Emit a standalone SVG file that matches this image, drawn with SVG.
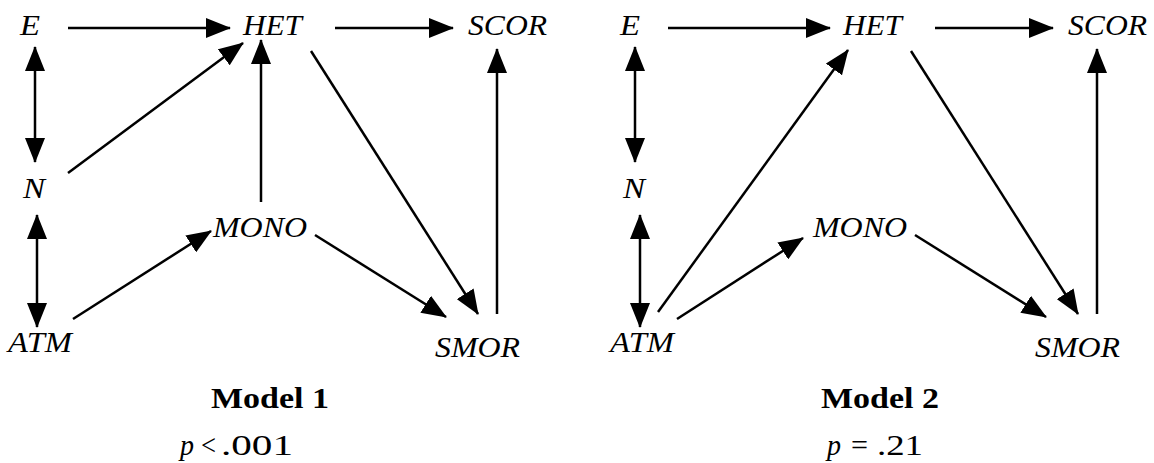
<svg xmlns="http://www.w3.org/2000/svg" width="1154" height="463" viewBox="0 0 1154 463">
<style>
text{font-family:"Liberation Serif","Times New Roman",Tinos,"Nimbus Roman","FreeSerif","DejaVu Serif",serif;fill:#000}
.n{font-style:italic;font-size:30px}
.t{font-weight:bold;font-size:30px}
.p{font-size:30px}
.c line{stroke:#000;stroke-width:2.5;fill:none;marker-end:url(#ah)}
.c line.d{marker-start:url(#ah)}
</style>
<defs>
<marker id="ah" viewBox="0 0 25 20" refX="24" refY="10" markerWidth="25" markerHeight="20" markerUnits="userSpaceOnUse" orient="auto-start-reverse"><path d="M0,0 L25,10 L0,20 z" fill="#000"/></marker>
</defs>
<rect width="1154" height="463" fill="#fff"/>
<g class="c" id="connectors">
<line x1="68" y1="28" x2="230" y2="28"/>
<line x1="335" y1="28" x2="453" y2="28"/>
<line class="d" x1="35" y1="47" x2="35" y2="162"/>
<line class="d" x1="37" y1="215" x2="37" y2="327"/>
<line x1="68" y1="173" x2="243" y2="43"/>
<line x1="261" y1="202" x2="261" y2="40"/>
<line x1="311" y1="51" x2="478" y2="314"/>
<line x1="73" y1="319" x2="211" y2="231"/>
<line x1="315" y1="235" x2="446" y2="317"/>
<line x1="497" y1="314" x2="497" y2="49"/>
<line x1="668" y1="28" x2="830" y2="28"/>
<line x1="935" y1="28" x2="1053" y2="28"/>
<line class="d" x1="635" y1="47" x2="635" y2="162"/>
<line class="d" x1="640" y1="215" x2="640" y2="327"/>
<line x1="658" y1="312" x2="848" y2="50"/>
<line x1="677" y1="319" x2="803" y2="238"/>
<line x1="911" y1="51" x2="1078" y2="314"/>
<line x1="915" y1="235" x2="1046" y2="317"/>
<line x1="1097" y1="314" x2="1097" y2="49"/>
</g>
<g id="m1-E"><text class="n" x="20" y="35" textLength="20" lengthAdjust="spacingAndGlyphs">E</text></g>
<g id="m1-HET"><text class="n" x="243" y="35" textLength="59" lengthAdjust="spacingAndGlyphs">HET</text></g>
<g id="m1-SCOR"><text class="n" x="468" y="35" textLength="79" lengthAdjust="spacingAndGlyphs">SCOR</text></g>
<g id="m1-N"><text class="n" x="23" y="198" textLength="22" lengthAdjust="spacingAndGlyphs">N</text></g>
<g id="m1-MONO"><text class="n" x="213" y="237" textLength="94" lengthAdjust="spacingAndGlyphs">MONO</text></g>
<g id="m1-ATM"><text class="n" x="8" y="352" textLength="64" lengthAdjust="spacingAndGlyphs">ATM</text></g>
<g id="m1-SMOR"><text class="n" x="435" y="357" textLength="85" lengthAdjust="spacingAndGlyphs">SMOR</text></g>
<g id="m1-caption"><text class="t" x="211" y="408" textLength="118" lengthAdjust="spacingAndGlyphs">Model 1</text>
<text class="n" x="180" y="455" textLength="14" lengthAdjust="spacingAndGlyphs">p</text><text class="p" x="201" y="455" textLength="15" lengthAdjust="spacingAndGlyphs">&lt;</text><text class="p" x="221" y="455" textLength="72" lengthAdjust="spacingAndGlyphs">.001</text></g>
<g id="m2-E"><text class="n" x="620" y="35" textLength="20" lengthAdjust="spacingAndGlyphs">E</text></g>
<g id="m2-HET"><text class="n" x="843" y="35" textLength="59" lengthAdjust="spacingAndGlyphs">HET</text></g>
<g id="m2-SCOR"><text class="n" x="1068" y="35" textLength="79" lengthAdjust="spacingAndGlyphs">SCOR</text></g>
<g id="m2-N"><text class="n" x="623" y="198" textLength="22" lengthAdjust="spacingAndGlyphs">N</text></g>
<g id="m2-MONO"><text class="n" x="813" y="237" textLength="94" lengthAdjust="spacingAndGlyphs">MONO</text></g>
<g id="m2-ATM"><text class="n" x="610" y="352" textLength="64" lengthAdjust="spacingAndGlyphs">ATM</text></g>
<g id="m2-SMOR"><text class="n" x="1035" y="357" textLength="85" lengthAdjust="spacingAndGlyphs">SMOR</text></g>
<g id="m2-caption"><text class="t" x="821" y="408" textLength="118" lengthAdjust="spacingAndGlyphs">Model 2</text>
<text class="n" x="827" y="455" textLength="14" lengthAdjust="spacingAndGlyphs">p</text><text class="p" x="851" y="455" textLength="17" lengthAdjust="spacingAndGlyphs">=</text><text class="p" x="877" y="455" textLength="46" lengthAdjust="spacingAndGlyphs">.21</text></g>
</svg>
